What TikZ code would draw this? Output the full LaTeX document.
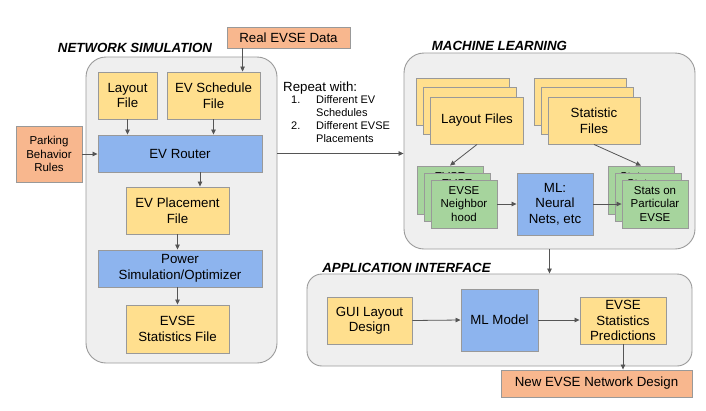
\documentclass[tikz,border=0pt]{standalone}
\usepackage{fontspec}
\setmainfont{Liberation Sans}
\usetikzlibrary{arrows.meta,calc}
\definecolor{filey}{HTML}{FFDF8E}
\definecolor{extorange}{HTML}{F8B78E}
\definecolor{procblue}{HTML}{8DB4EE}
\definecolor{featgreen}{HTML}{A6D49D}
\definecolor{groupfill}{HTML}{EFEFEF}
\definecolor{groupline}{HTML}{9A9A9A}
\definecolor{boxline}{HTML}{999999}
\definecolor{arrowgray}{HTML}{555555}
\begin{document}
\begin{tikzpicture}[x=1pt, y=-1pt,
    box/.style = {draw=boxline, line width=0.9pt, align=center, inner sep=0pt, font=\fontsize{13.3}{15.5}\selectfont},
    small/.style = {font=\fontsize{11.5}{13.5}\selectfont},
    yfile/.style = {box, fill=filey},
    ext/.style = {box, fill=extorange},
    proc/.style = {box, fill=procblue},
    gfile/.style = {box, small, fill=featgreen},
    group/.style = {draw=groupline, fill=groupfill, line width=0.9pt, rounded corners=20pt},
    title/.style = {font=\fontsize{13.3}{15}\selectfont\bfseries\itshape},
    arr/.style = {draw=arrowgray, line width=0.8pt, -{Triangle[length=5pt,width=4.5pt]}}]
    \useasboundingbox (0,0) rectangle (706,410);

    % containers
    \node[group, minimum width=191pt, minimum height=306pt] (netsim) at (181.5,210) {};
    \node[group, minimum width=291pt, minimum height=196pt] (mlgrp)  at (549.5,151) {};
    \node[group, rounded corners=15pt, minimum width=385pt, minimum height=92pt] (appgrp) at (499.5,320) {};
    \node[title] (nettitle) at (135,48)    {NETWORK SIMULATION};
    \node[title] (mltitle)  at (499.5,46)  {MACHINE LEARNING};
    \node[title] (apptitle) at (406.5,268) {APPLICATION INTERFACE};

    % network simulation
    \node[ext, minimum width=123pt, minimum height=21pt] (real) at (288.5,37.5) {Real EVSE Data};
    \node[yfile, minimum width=59pt, minimum height=47pt] (layout) at (127.5,95.5) {Layout\\File};
    \node[yfile, minimum width=93pt, minimum height=47pt] (sched)  at (213.5,95.5) {EV Schedule\\File};
    \node[ext, small, minimum width=66pt, minimum height=56pt] (park) at (49,154) {Parking\\Behavior\\Rules};
    \node[proc, minimum width=164pt, minimum height=37pt] (router) at (180,153.5) {EV Router};
    \node[yfile, minimum width=103pt, minimum height=47pt] (place) at (177.5,210.5) {EV Placement\\File};
    \node[proc, minimum width=164pt, minimum height=37pt] (power) at (180,268.5) {Power\\Simulation/Optimizer};
    \node[yfile, minimum width=103pt, minimum height=48pt] (evsestat) at (177.5,329) {EVSE\\Statistics File};

    \coordinate (realout) at ($(real.south west)+(16,0)$);
    \coordinate (routerout) at ($(router.south)+(20,0)$);
    \draw[arr] (realout) -- (realout |- sched.north);
    \draw[arr] (layout.south) -- (layout.south |- router.north);
    \draw[arr] (sched.south) -- (sched.south |- router.north);
    \draw[arr] (park.east) -- (park.east -| router.west);
    \draw[arr] (routerout) -- (routerout |- place.north);
    \draw[arr] (place.south) -- (place.south |- power.north);
    \draw[arr] (place.south |- power.south) -- (evsestat.north);

    % repeat note
    \node[anchor=west, inner sep=0pt, font=\fontsize{13.3}{15.5}\selectfont] (repeat) at (283,88) {Repeat with:};
    \node[anchor=north west, inner sep=0pt, font=\fontsize{11}{13}\selectfont] (replist) at (291,94)
        {\begin{tabular}{@{}p{25pt}@{}l@{}}1. & Different EV\\ & Schedules\\ 2. & Different EVSE\\ & Placements\end{tabular}};
    \draw[arr] (router.east -| netsim.east) -- (router.east -| mlgrp.west);

    % machine learning
    \foreach \i in {2,1}
        \node[yfile, minimum width=93pt, minimum height=47pt] (layfs\i) at (477-7*\i,120.5-9.5*\i) {};
    \node[yfile, minimum width=93pt, minimum height=47pt] (layfs) at (477,120.5) {Layout Files};
    \foreach \i in {2,1}
        \node[yfile, minimum width=92pt, minimum height=47pt] (statfs\i) at (594-7*\i,120.5-9.5*\i) {};
    \node[yfile, minimum width=92pt, minimum height=47pt] (statfs) at (594,120.5) {Statistic\\Files};
    \foreach \i in {2,1}
        \node[gfile, minimum width=66pt, minimum height=48pt] (nbhd\i) at (464-7*\i,204-7*\i) {EVSE\\Neighbor\\hood};
    \node[gfile, minimum width=66pt, minimum height=48pt] (nbhd) at (464,204) {EVSE\\Neighbor\\hood};
    \foreach \i in {2,1}
        \node[gfile, minimum width=66pt, minimum height=48pt] (partic\i) at (655-7*\i,204-7*\i) {Stats on\\Particular\\EVSE};
    \node[gfile, minimum width=66pt, minimum height=48pt] (partic) at (655,204) {Stats on\\Particular\\EVSE};
    \node[proc, minimum width=76pt, minimum height=62pt] (nn) at (555,204) {ML:\\Neural\\Nets, etc};

    \draw[arr] (layfs.south) -- (nbhd2.north);
    \draw[arr] (statfs.south) -- (partic2.north);
    \draw[arr] (nbhd.east) -- (nn.west);
    \draw[arr] (nn.east) -- (partic.west);
    \draw[arr] (mlgrp.south) -- (mlgrp.south |- appgrp.north);

    % application interface
    \node[yfile, minimum width=85pt, minimum height=47pt] (gui) at (369.5,320.5) {GUI Layout\\Design};
    \node[proc, minimum width=77pt, minimum height=62pt] (mlmodel) at (499.5,320) {ML Model};
    \node[yfile, minimum width=86pt, minimum height=47pt] (pred) at (623,320.5) {EVSE\\Statistics\\Predictions};
    \node[ext, minimum width=191pt, minimum height=27pt] (newdesign) at (596.5,383.5) {New EVSE Network Design};

    \draw[arr] (gui.east) -- (mlmodel.west);
    \draw[arr] (mlmodel.east) -- (mlmodel.east -| pred.west);
    \draw[arr] (pred.south) -- (pred.south |- newdesign.north);
\end{tikzpicture}
\end{document}
